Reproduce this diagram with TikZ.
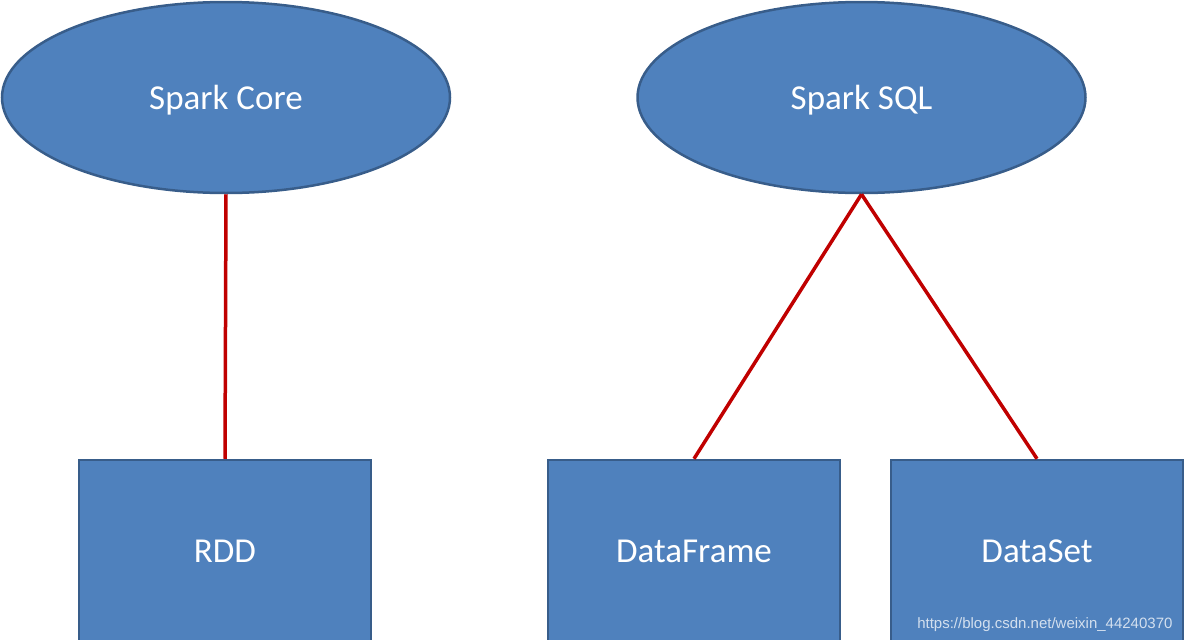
\documentclass[tikz,border=0pt]{standalone}
\usepackage{fontspec}
\setmainfont{Carlito}
\newfontfamily\wmfont{Liberation Sans}
\usetikzlibrary{shapes.geometric}
\definecolor{boxblue}{HTML}{4F81BD}
\definecolor{boxedge}{HTML}{385D8A}
\definecolor{linkred}{HTML}{C00000}
\tikzset{
  layer/.style={ellipse,draw=boxedge,line width=2.5pt,fill=boxblue,text=white,
    minimum width=448pt,minimum height=191pt,inner sep=0pt,text depth=0pt,
    font=\fontsize{35}{42}\selectfont},
  api/.style={rectangle,draw=boxedge,line width=2.5pt,fill=boxblue,text=white,
    minimum width=292pt,minimum height=182pt,inner sep=0pt,
    font=\fontsize{35}{42}\selectfont},
  link/.style={draw=linkred,line width=3.5pt}
}
\begin{document}
\begin{tikzpicture}[x=1pt,y=-1pt]
\useasboundingbox (0,0) rectangle (1184,640);
\node[layer] (core) at (226,97.5) {Spark Core};
\node[layer] (sql) at (861.5,97.5) {Spark SQL};
\node[api] (rdd) at (225,551) {RDD};
\node[api] (frame) at (694,551) {DataFrame};
\node[api] (set) at (1037,551) {DataSet};
\draw[link] (core.south) -- (rdd.north);
\draw[link] (sql.south) -- (frame.north);
\draw[link] (sql.south) -- (set.north);
\node[anchor=base east,text=white,opacity=0.75,font=\wmfont\fontsize{15}{18}\selectfont] (mark) at (1176,628) {https://blog.csdn.net/weixin\_44240370};
\end{tikzpicture}
\end{document}
